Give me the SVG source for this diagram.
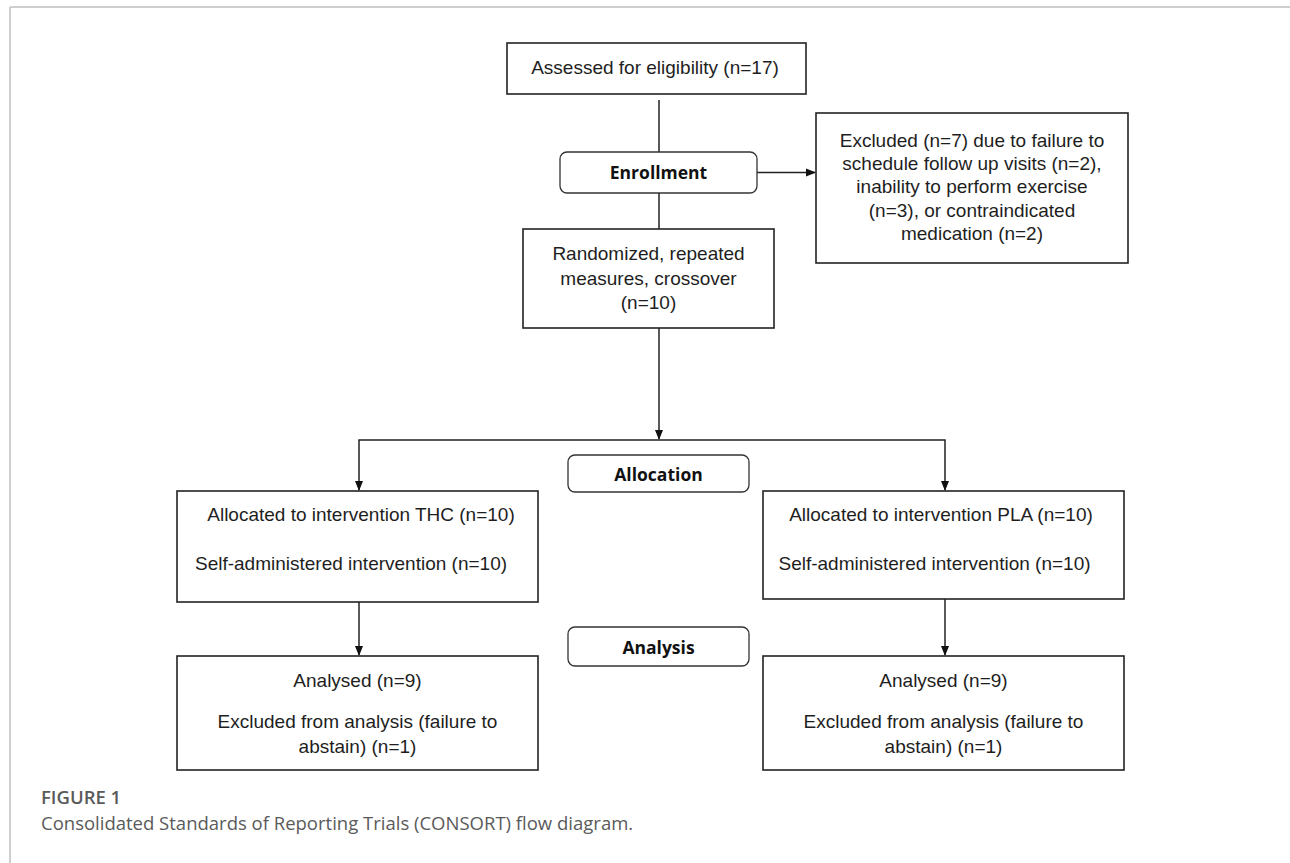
<svg xmlns="http://www.w3.org/2000/svg" width="1290" height="863" viewBox="0 0 1290 863">
<style>
.box{fill:#fff;stroke:#222;stroke-width:1.6}
.stage{fill:#fff;stroke:#333;stroke-width:1.3}
.t{font-family:"Liberation Sans",Arial,sans-serif;font-size:19px;fill:#1e1e1e;text-anchor:middle}
.s{font-family:"Open Sans","Noto Sans",sans-serif;font-weight:700;font-size:17.5px;fill:#111;text-anchor:middle}
.c{stroke:#222;stroke-width:1.5;fill:none}
.cap{font-family:"Open Sans","Noto Sans",sans-serif;font-size:18.5px;fill:#5a5a5a}
</style>
<defs>
<marker id="ah" markerWidth="10" markerHeight="10" refX="9" refY="5" orient="auto" markerUnits="userSpaceOnUse"><path d="M0,1 L10,5 L0,9 z" fill="#111"/></marker>
</defs>
<path d="M10,7 H1290 M10,7 V863" stroke="#cfcfcf" stroke-width="2" fill="none"/>
<g id="connectors">
<path class="c" d="M659,100 V152"/>
<path class="c" d="M659,193 V229"/>
<path class="c" d="M757,172.5 H815" marker-end="url(#ah)"/>
<path class="c" d="M659,328 V439" marker-end="url(#ah)"/>
<path class="c" d="M659,440 H359 V490" marker-end="url(#ah)"/>
<path class="c" d="M659,440 H945 V490" marker-end="url(#ah)"/>
<path class="c" d="M359,602 V655" marker-end="url(#ah)"/>
<path class="c" d="M945,599 V655" marker-end="url(#ah)"/>
</g>
<g id="assessed"><rect class="box" x="507" y="43" width="299" height="51"/><text class="t" x="655" y="74">Assessed for eligibility (n=17)</text></g>
<g id="enrollment"><rect class="stage" x="560" y="152" width="197" height="41" rx="7"/><text class="s" x="658.5" y="178.5">Enrollment</text></g>
<g id="excluded"><rect class="box" x="816" y="113" width="312" height="150"/>
<text class="t" x="972" y="146.7">Excluded (n=7) due to failure to</text>
<text class="t" x="972" y="170">schedule follow up visits (n=2),</text>
<text class="t" x="972" y="193.3">inability to perform exercise</text>
<text class="t" x="972" y="216.7">(n=3), or contraindicated</text>
<text class="t" x="972" y="240">medication (n=2)</text></g>
<g id="randomized"><rect class="box" x="523" y="229" width="251" height="99"/>
<text class="t" x="648.5" y="260">Randomized, repeated</text>
<text class="t" x="648.5" y="284.5">measures, crossover</text>
<text class="t" x="648.5" y="309">(n=10)</text></g>
<g id="allocation"><rect class="stage" x="568" y="455" width="181" height="37" rx="7"/><text class="s" x="658.5" y="481">Allocation</text></g>
<g id="thc"><rect class="box" x="177" y="491" width="361" height="111"/>
<text class="t" x="361" y="521">Allocated to intervention THC (n=10)</text>
<text class="t" x="351" y="570">Self-administered intervention (n=10)</text></g>
<g id="pla"><rect class="box" x="763" y="491" width="361" height="108"/>
<text class="t" x="941" y="521">Allocated to intervention PLA (n=10)</text>
<text class="t" x="934.5" y="570">Self-administered intervention (n=10)</text></g>
<g id="analysis"><rect class="stage" x="568" y="627" width="181" height="39" rx="7"/><text class="s" x="658.5" y="654">Analysis</text></g>
<g id="analysed-thc"><rect class="box" x="177" y="656" width="361" height="114"/>
<text class="t" x="357.5" y="687">Analysed (n=9)</text>
<text class="t" x="357.5" y="728">Excluded from analysis (failure to</text>
<text class="t" x="357.5" y="753">abstain) (n=1)</text></g>
<g id="analysed-pla"><rect class="box" x="763" y="656" width="361" height="114"/>
<text class="t" x="943.5" y="687">Analysed (n=9)</text>
<text class="t" x="943.5" y="728">Excluded from analysis (failure to</text>
<text class="t" x="943.5" y="753">abstain) (n=1)</text></g>
<g id="caption">
<text class="cap" x="41" y="804" font-weight="600" fill="#666">FIGURE 1</text>
<text class="cap" x="41" y="830">Consolidated Standards of Reporting Trials (CONSORT) flow diagram.</text>
</g>
</svg>
